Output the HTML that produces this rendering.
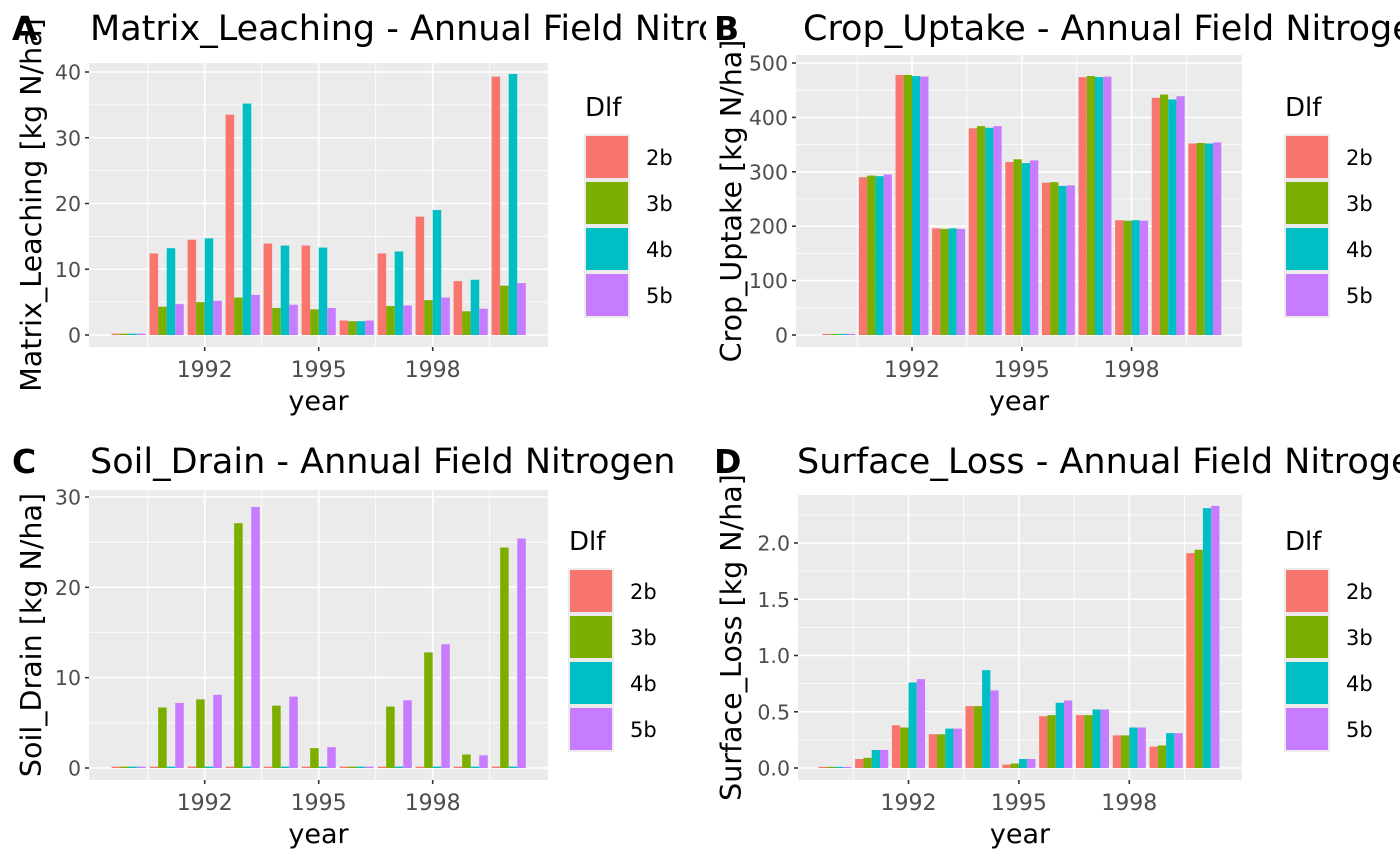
<!DOCTYPE html>
<html><head><meta charset="utf-8"><style>
html,body{margin:0;padding:0;background:#fff}
svg{display:block;font-family:"DejaVu Sans","Liberation Sans",sans-serif}
</style></head><body>
<svg id="s" width="1400" height="866" viewBox="0 0 1400 866" xmlns="http://www.w3.org/2000/svg">
<defs>
<clipPath id="cl"><rect x="0" y="0" width="706" height="866"/></clipPath>
<clipPath id="cr"><rect x="706" y="0" width="694" height="866"/></clipPath>
</defs>
</svg>
<script>
const S=document.getElementById('s');
let h='';
const cols=['#F8766D','#7CAE00','#00BFC4','#C77CFF'];
function panel(o){
 const {L,R,T,B,y0,ky,x92,kx,maj,minr,lab,data,title,tx,tag,ylab,cx,legx,legy,clip}=o;
 const X=y=>x92+(y-1992)*kx, Y=v=>y0-v*ky;
 let g=`<g clip-path="url(#${clip})">`;
 g+=`<rect x="${L}" y="${T}" width="${R-L}" height="${B-T}" fill="#EBEBEB"/>`;
 minr.forEach(v=>{const y=Y(v);if(y>T&&y<B)g+=`<line x1="${L}" x2="${R}" y1="${y}" y2="${y}" stroke="#fff" stroke-width="0.8"/>`});
 [1990.5,1993.5,1996.5,1999.5].forEach(v=>g+=`<line x1="${X(v)}" x2="${X(v)}" y1="${T}" y2="${B}" stroke="#fff" stroke-width="0.8"/>`);
 maj.forEach((v,i)=>{const y=Y(v);g+=`<line x1="${L}" x2="${R}" y1="${y}" y2="${y}" stroke="#fff" stroke-width="1.6"/><line x1="${L-4}" x2="${L}" y1="${y}" y2="${y}" stroke="#333" stroke-width="1.6"/><text x="${L-8}" y="${y+7.5}" font-size="20.5" fill="#4D4D4D" text-anchor="end">${lab[i]}</text>`});
 [1992,1995,1998].forEach(v=>g+=`<line x1="${X(v)}" x2="${X(v)}" y1="${T}" y2="${B}" stroke="#fff" stroke-width="1.6"/><line x1="${X(v)}" x2="${X(v)}" y1="${B}" y2="${B+4}" stroke="#333" stroke-width="1.6"/><text x="${X(v)}" y="${B+30}" font-size="22" fill="#4D4D4D" text-anchor="middle">${v}</text>`);
 const bw=0.225*kx;
 data.forEach((d,i)=>{const yr=1990+i;d.forEach((v,j)=>{const x=X(yr-0.45)+j*bw;const y=Y(v);g+=`<rect x="${x}" y="${Math.min(y,y0-1)}" width="${bw}" height="${Math.max(y0-y,1)}" fill="${cols[j]}"/>`})});
 g+=`<text x="${(L+R)/2}" y="${B+63}" font-size="27" text-anchor="middle">year</text>`;
 g+=`<text transform="translate(${cx},${(T+B)/2}) rotate(-90)" font-size="28.5" text-anchor="middle">${ylab}</text>`;
 g+=`<text x="${tx}" y="${tag.y}" font-size="35">${title}</text>`;
 g+=`<text x="${tag.x}" y="${tag.y}" font-size="33" font-weight="bold">${tag.t}</text>`;
 g+=`<text x="${legx+1}" y="${legy-18}" font-size="26">Dlf</text>`;
 ['2b','3b','4b','5b'].forEach((t,k)=>{g+=`<rect x="${legx}" y="${legy+k*46}" width="46" height="46" fill="#EBEBEB"/><rect x="${legx+2}" y="${legy+k*46+2}" width="42" height="42" fill="${cols[k]}"/><text x="${legx+62}" y="${legy+k*46+31}" font-size="21">${t}</text>`});
 g+='</g>';h+=g;
}
panel({clip:'cl',L:89,R:548,T:63,B:347,y0:335,ky:6.575,x92:204.7,kx:38,maj:[0,10,20,30,40],minr:[5,15,25,35],lab:['0','10','20','30','40'],
 data:[[.2,.2,.2,.2],[12.4,4.3,13.2,4.7],[14.5,5,14.7,5.2],[33.5,5.7,35.2,6.1],[13.9,4.1,13.6,4.6],[13.6,3.9,13.3,4.1],[2.2,2.1,2.1,2.2],[12.4,4.4,12.7,4.5],[18,5.3,19,5.7],[8.2,3.6,8.4,4],[39.3,7.5,39.7,7.9]],
 title:'Matrix_Leaching - Annual Field Nitrogen',tx:90,tag:{x:12,y:40,t:'A'},ylab:'Matrix_Leaching [kg N/ha]',cx:41,legx:584,legy:134});
panel({clip:'cr',L:796,R:1242,T:55,B:347,y0:335,ky:0.544,x92:912,kx:36.6,maj:[0,100,200,300,400,500],minr:[50,150,250,350,450],lab:['0','100','200','300','400','500'],
 data:[[2,2,2,2],[290,293,292,295],[478,478,476,475],[196,195,196,195],[380,384,381,384],[318,323,316,321],[280,281,274,275],[474,476,474,475],[211,210,211,210],[436,442,433,439],[352,353,352,354]],
 title:'Crop_Uptake - Annual Field Nitrogen',tx:803,tag:{x:714,y:40,t:'B'},ylab:'Crop_Uptake [kg N/ha]',cx:741,legx:1284,legy:134});
panel({clip:'cl',L:89,R:548,T:490,B:780,y0:768,ky:9.033,x92:204.7,kx:38,maj:[0,10,20,30],minr:[5,15,25],lab:['0','10','20','30'],
 data:[[.15,.15,.15,.15],[.15,6.7,.15,7.2],[.15,7.6,.15,8.1],[.15,27.1,.15,28.9],[.15,6.9,.15,7.9],[.15,2.2,.15,2.3],[.15,.15,.15,.15],[.15,6.8,.15,7.5],[.15,12.8,.15,13.7],[.15,1.5,.15,1.4],[.15,24.4,.15,25.4]],
 title:'Soil_Drain - Annual Field Nitrogen',tx:90,tag:{x:12,y:473,t:'C'},ylab:'Soil_Drain [kg N/ha]',cx:41,legx:568,legy:568});
panel({clip:'cr',L:798,R:1242,T:495,B:780,y0:768,ky:112.5,x92:908.5,kx:36.8,maj:[0,.5,1,1.5,2],minr:[.25,.75,1.25,1.75,2.25],lab:['0.0','0.5','1.0','1.5','2.0'],
 data:[[.01,.01,.01,.01],[.08,.09,.16,.16],[.38,.36,.76,.79],[.3,.3,.35,.35],[.55,.55,.87,.69],[.03,.04,.08,.08],[.46,.47,.58,.6],[.47,.47,.52,.52],[.29,.29,.36,.36],[.19,.2,.31,.31],[1.91,1.94,2.31,2.33]],
 title:'Surface_Loss - Annual Field Nitrogen',tx:797,tag:{x:714,y:473,t:'D'},ylab:'Surface_Loss [kg N/ha]',cx:741,legx:1284,legy:568});
S.insertAdjacentHTML('beforeend',h);
</script>
</body></html>
